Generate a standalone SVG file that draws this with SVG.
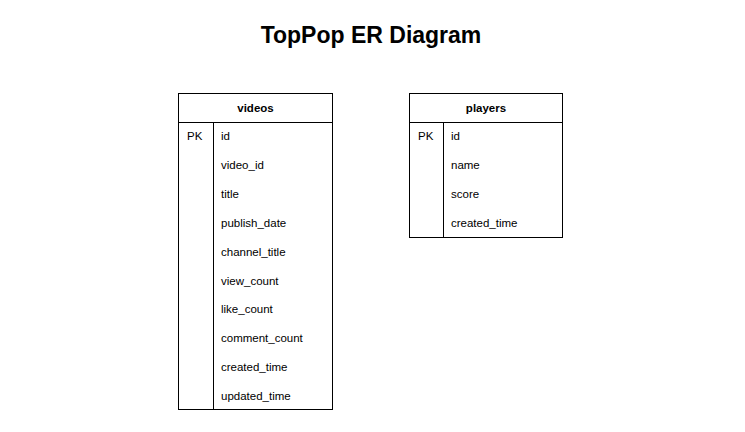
<svg xmlns="http://www.w3.org/2000/svg" width="745" height="432" viewBox="0 0 745 432">
<style>
.box{fill:#fff;stroke:#000;stroke-width:1}
.ln{stroke:#000;stroke-width:1;fill:none}
.t{font-family:"Liberation Sans",Arial,sans-serif;font-size:11.5px;fill:#000}
.h{font-family:"Liberation Sans",Arial,sans-serif;font-size:11.5px;font-weight:bold;fill:#000;text-anchor:middle}
.title{font-family:"Liberation Sans",Arial,sans-serif;font-size:23px;font-weight:bold;fill:#000;text-anchor:middle}
</style>
<rect width="745" height="432" fill="#fff"/>
<text class="title" x="371" y="43">TopPop ER Diagram</text>
<g id="videos">
<rect class="box" x="178.5" y="93.5" width="154" height="316"/>
<line class="ln" x1="178.5" y1="122.5" x2="332.5" y2="122.5"/>
<line class="ln" x1="213.5" y1="122.5" x2="213.5" y2="409.5"/>
<text class="h" x="255.5" y="112">videos</text>
<text class="t" x="187" y="140">PK</text>
<text class="t" x="221" y="140">id</text>
<text class="t" x="221" y="169">video_id</text>
<text class="t" x="221" y="198">title</text>
<text class="t" x="221" y="227">publish_date</text>
<text class="t" x="221" y="256">channel_title</text>
<text class="t" x="221" y="285">view_count</text>
<text class="t" x="221" y="313">like_count</text>
<text class="t" x="221" y="342">comment_count</text>
<text class="t" x="221" y="371">created_time</text>
<text class="t" x="221" y="400">updated_time</text>
</g>
<g id="players">
<rect class="box" x="409.5" y="93.5" width="153" height="144"/>
<line class="ln" x1="409.5" y1="122.5" x2="562.5" y2="122.5"/>
<line class="ln" x1="443.5" y1="122.5" x2="443.5" y2="237.5"/>
<text class="h" x="486" y="112">players</text>
<text class="t" x="418" y="140">PK</text>
<text class="t" x="451" y="140">id</text>
<text class="t" x="451" y="169">name</text>
<text class="t" x="451" y="198">score</text>
<text class="t" x="451" y="227">created_time</text>
</g>
<g id="connectors"/>
</svg>
